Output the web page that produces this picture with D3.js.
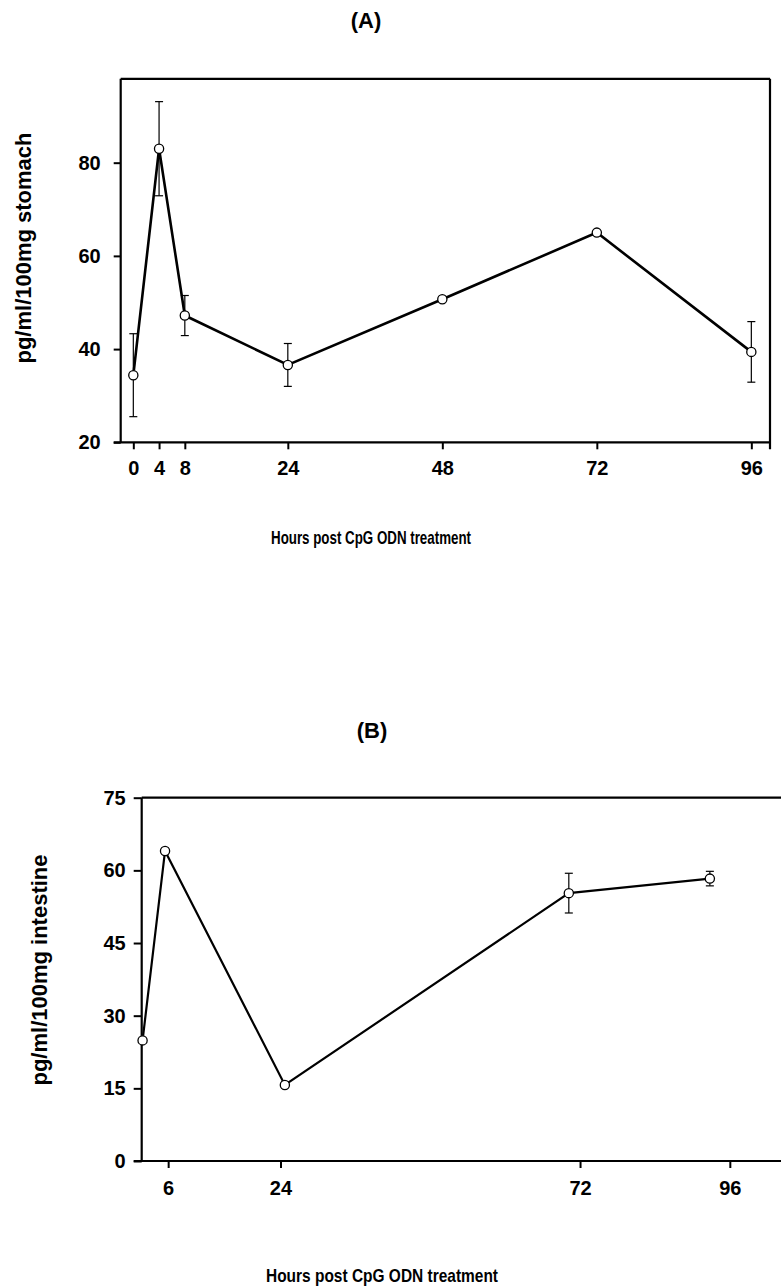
<!DOCTYPE html>
<html>
<head>
<meta charset="utf-8">
<script src="https://cdn.jsdelivr.net/npm/d3@7/dist/d3.min.js"></script>
<style>
    body { margin: 0; background: #fff; }
    text { font-family: "Liberation Sans", Arial, sans-serif; font-weight: bold; fill: #000; }
</style>
</head>
<body>
<div id="chart"></div>
<script>
// (A) stomach
var hoursA = [0, 4, 8, 24, 48, 72, 96];
var stomach = [34.4, 83.0, 47.2, 36.6, 50.7, 65.0, 39.4];
var stomachErr = [8.9, 10.1, 4.3, 4.6, 0, 0, 6.5];
var xTicksA = [0, 4, 8, 24, 48, 72, 96];
var yTicksA = [20, 40, 60, 80];

// (B) intestine
var hoursB = [1.9, 5.5, 24.7, 70.2, 92.8];
var intestine = [24.9, 64.0, 15.7, 55.3, 58.3];
var intestineErr = [0, 0, 0, 4.1, 1.5];
var xTicksB = [6, 24, 72, 96];
var yTicksB = [0, 15, 30, 45, 60, 75];

var width = 781, height = 1288;

var svg = d3.select('#chart')
            .append('svg')
            .attr('width', width)
            .attr('height', height);

svg.append('rect')
    .attr('width', width)
    .attr('height', height)
    .attr('fill', '#fff');

function drawPanel (p)
{
    var g = svg.append('g');

    var pts = p.hours.map(function (h, i) {
        return { h: h, v: p.values[i], e: p.errors[i] };
    });

    // axes
    var xAxis = d3.axisBottom(p.x)
                  .tickValues(p.xTicks)
                  .tickSize(7)
                  .tickSizeOuter(0)
                  .tickPadding(p.xPad);

    var yAxis = d3.axisLeft(p.y)
                  .tickValues(p.yTicks)
                  .tickSize(p.yTickSize)
                  .tickSizeOuter(0)
                  .tickPadding(p.yPad);

    var gx = g.append('g')
              .attr('transform', 'translate(0,' + p.y.range()[0] + ')')
              .call(xAxis);

    var gy = g.append('g')
              .attr('transform', 'translate(' + p.x.range()[0] + ',0)')
              .call(yAxis);

    [gx, gy].forEach(function (a) {
        a.attr('font-size', null).attr('font-family', null);
        a.select('.domain').remove();
        a.selectAll('.tick line').attr('stroke', '#000').attr('stroke-width', 2);
        a.selectAll('.tick text')
            .style('font-size', '20px')
            .attr('fill', '#000');
    });

    // frame
    var x0 = p.x.range()[0], x1 = p.x.range()[1];
    var y0 = p.y.range()[0], y1 = p.y.range()[1];

    var frame = g.append('g')
                 .attr('stroke', '#000')
                 .attr('stroke-width', 2.2);

    frame.append('line').attr('x1', x0 - p.yTickSize).attr('x2', x1).attr('y1', y0).attr('y2', y0);
    frame.append('line').attr('x1', x0).attr('x2', x0).attr('y1', y0).attr('y2', y1);
    frame.append('line').attr('x1', x0).attr('x2', x1).attr('y1', y1).attr('y2', y1);
    if (p.rightBorder) {
        frame.append('line').attr('x1', x1).attr('x2', x1).attr('y1', y0 + 7).attr('y2', y1);
    }

    // error bars
    var eb = g.selectAll('.err')
              .data(pts.filter(function (d) { return d.e > 0; }))
              .enter()
              .append('g')
              .attr('class', 'err')
              .attr('stroke', '#000')
              .attr('stroke-width', 1.2);

    eb.append('line')
        .attr('x1', function (d) { return p.x(d.h); })
        .attr('x2', function (d) { return p.x(d.h); })
        .attr('y1', function (d) { return p.y(d.v + d.e); })
        .attr('y2', function (d) { return p.y(d.v - d.e); });

    [1, -1].forEach(function (s) {
        eb.append('line')
            .attr('x1', function (d) { return p.x(d.h) - 4; })
            .attr('x2', function (d) { return p.x(d.h) + 4; })
            .attr('y1', function (d) { return p.y(d.v + s * d.e); })
            .attr('y2', function (d) { return p.y(d.v + s * d.e); });
    });

    // line + markers
    var line = d3.line()
                 .x(function (d) { return p.x(d.h); })
                 .y(function (d) { return p.y(d.v); });

    g.append('path')
        .datum(pts)
        .attr('d', line)
        .attr('fill', 'none')
        .attr('stroke', '#000')
        .attr('stroke-width', p.lineWidth)
        .attr('stroke-linejoin', 'miter');

    g.selectAll('circle')
        .data(pts)
        .enter()
        .append('circle')
        .attr('cx', function (d) { return p.x(d.h); })
        .attr('cy', function (d) { return p.y(d.v); })
        .attr('r', 4.6)
        .attr('fill', '#fff')
        .attr('stroke', '#000')
        .attr('stroke-width', 1.3);

    // labels
    g.append('text')
        .attr('x', p.title[0])
        .attr('y', p.title[1])
        .attr('text-anchor', 'middle')
        .style('font-size', '22px')
        .text(p.titleText);

    g.append('text')
        .attr('x', p.xLabel[0])
        .attr('y', p.xLabel[1])
        .attr('text-anchor', 'middle')
        .attr('textLength', p.xLabel[2])
        .attr('lengthAdjust', 'spacingAndGlyphs')
        .style('font-size', '19px')
        .text('Hours post CpG ODN treatment');

    g.append('text')
        .attr('transform', 'translate(' + p.yLabel[0] + ',' + p.yLabel[1] + ') rotate(-90)')
        .attr('text-anchor', 'middle')
        .style('font-size', '22px')
        .text(p.yLabelText);
}

drawPanel({
    hours: hoursA, values: stomach, errors: stomachErr,
    xTicks: xTicksA, yTicks: yTicksA,
    x: d3.scaleLinear().domain([-1.96, 98.9]).range([120.7, 770]),
    y: d3.scaleLinear().domain([20, 98]).range([442.3, 78.8]),
    yTickSize: 7, yPad: 13, xPad: 12,
    rightBorder: true, lineWidth: 2.6,
    title: [366, 28], titleText: '(A)',
    xLabel: [371, 544, 200],
    yLabel: [31, 248], yLabelText: 'pg/ml/100mg stomach'
});

drawPanel({
    hours: hoursB, values: intestine, errors: intestineErr,
    xTicks: xTicksB, yTicks: yTicksB,
    x: d3.scaleLinear().domain([1.76, 104.2]).range([141.7, 781]),
    y: d3.scaleLinear().domain([0, 75]).range([1161, 797.7]),
    yTickSize: 8, yPad: 8, xPad: 13,
    rightBorder: false, lineWidth: 2.2,
    title: [372, 738], titleText: '(B)',
    xLabel: [382, 1282, 232],
    yLabel: [47, 970], yLabelText: 'pg/ml/100mg intestine'
});
</script>
</body>
</html>
